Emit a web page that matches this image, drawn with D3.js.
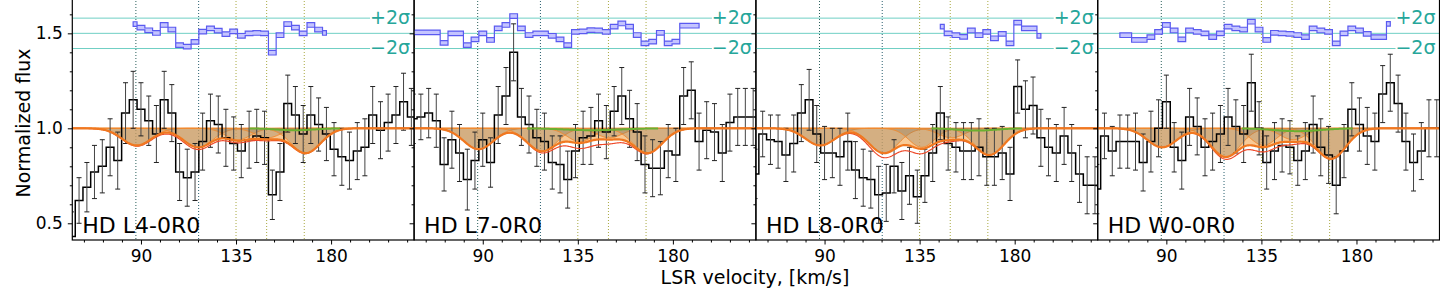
<!DOCTYPE html>
<html><head><meta charset="utf-8">
<script src="https://cdn.jsdelivr.net/npm/d3@7"></script>
<style>body{margin:0;background:#fff}svg{display:block}text{font-family:"DejaVu Sans",sans-serif}</style>
</head><body><svg id="c" width="1440" height="288"></svg>
<script>
// ---------- data ----------
const panelNames = ["HD L4-0R0", "HD L7-0R0", "HD L8-0R0", "HD W0-0R0"];
const velocity = [57.1,60.7,64.4,68.0,71.7,75.4,79.0,82.7,86.3,90.0,93.7,97.3,101.0,104.6,108.3,111.9,115.6,119.2,122.9,126.6,130.2,133.9,137.5,141.2,144.8,148.5,152.2,155.8,159.5,163.1,166.8,170.4,174.1,177.8,181.4,185.1,188.7,192.4,196.0,199.7,203.4,207.0,210.7,214.3,218.0];
const flux1 = [0.43,0.62,0.69,0.77,0.80,0.90,0.83,1.08,1.15,1.10,1.04,0.97,1.15,1.08,0.77,0.74,0.77,0.93,1.04,1.02,0.95,0.92,0.88,0.94,0.96,0.95,0.65,0.77,1.13,1.07,0.97,1.07,1.02,0.97,0.89,0.85,0.83,0.88,0.90,1.07,0.99,1.03,1.07,1.14,1.06];
const flux2 = [1.05,1.06,1.08,1.04,0.81,0.94,0.87,0.73,0.83,0.94,0.82,1.07,1.17,1.40,1.06,1.02,0.95,0.93,0.82,0.81,0.73,0.88,0.95,0.96,1.04,0.98,1.09,1.17,1.05,0.98,0.81,0.79,0.79,0.88,0.86,1.17,1.20,0.93,0.99,0.98,0.87,1.03,1.06,1.06,1.06];
const flux3 = [0.76,0.97,0.94,0.93,0.86,0.92,1.08,1.15,0.97,0.87,0.87,0.85,0.93,0.78,0.74,0.73,0.65,0.66,0.80,0.67,0.75,0.64,0.75,0.87,1.08,0.92,0.90,0.88,0.88,0.90,0.85,0.85,0.87,0.76,1.22,1.10,1.12,0.95,0.90,0.87,0.96,0.87,0.76,0.70,0.70];
const flux4 = [0.68,0.96,0.88,0.93,0.93,0.93,0.82,0.93,1.00,1.14,0.90,0.83,1.06,1.01,0.90,0.93,0.97,1.06,1.01,0.97,1.24,1.00,0.82,0.88,0.91,0.90,0.83,0.88,1.02,0.90,0.86,0.70,0.88,1.10,1.02,0.96,0.93,1.18,1.24,1.13,0.93,0.82,0.88,1.00,1.00];
const err1 = [0.13,0.12,0.13,0.14,0.14,0.15,0.15,0.16,0.15,0.14,0.13,0.15,0.15,0.15,0.15,0.15,0.15,0.15,0.14,0.15,0.15,0.14,0.14,0.15,0.14,0.14,0.13,0.15,0.15,0.15,0.15,0.15,0.14,0.14,0.14,0.15,0.15,0.15,0.15,0.15,0.15,0.15,0.15,0.15,0.15];
const err2 = err1.slice(), err3 = err1.slice(), err4 = err1.slice();
const resid1 = [1.549,1.53,1.516,1.502,1.544,1.52,1.438,1.43,1.455,1.509,1.526,1.514,1.496,1.51,1.487,1.5,1.502,1.5,1.398,1.49,1.549,1.53,1.5,1.544,1.52,1.502];
const resid2 = [1.505,1.505,1.505,1.505,1.45,1.5,1.5,1.438,1.468,1.5,1.465,1.526,1.544,1.591,1.526,1.491,1.5,1.5,1.487,1.468,1.438,1.508,1.51,1.517,1.515,1.508,1.535,1.552,1.535,1.491,1.447,1.456,1.503,1.447,1.456,1.54,1.54,1.54];
const resid3 = [1.535,1.5,1.49,1.481,1.515,1.49,1.508,1.474,1.497,1.447,1.556,1.526,1.526,1.487];
const resid4 = [1.49,1.49,1.465,1.465,1.48,1.508,1.544,1.515,1.468,1.515,1.508,1.5,1.48,1.5,1.535,1.526,1.52,1.561,1.52,1.465,1.503,1.5,1.497,1.491,1.48,1.526,1.515,1.508,1.447,1.5,1.526,1.515,1.497,1.48,1.48,1.55];
const residStart = [8, 0, 24, 3];   // index into velocity of first residual bin
// Gaussian absorption components: [centre km/s, depth, sigma km/s]
const comps1 = [[88,0.09,7],[117,0.10,7],[136,0.06,6],[150,0.05,6],[168,0.13,7]];
const comps2 = [[88,0.11,7],[118,0.12,7],[136,0.07,6],[150,0.05,6],[168,0.13,7]];
const comps3 = [[88,0.09,7],[118,0.13,7],[136,0.10,6],[150,0.05,6],[168,0.14,7]];
const comps4 = [[88,0.10,7],[118,0.15,7],[136,0.09,6],[150,0.06,6],[168,0.16,7]];
const redDip = [[125,0.012,25],[140,0.03,14],[128,0.03,14],[135,0.025,14]];
const greenComp = [[163,0.010,9],[142,0.010,13],[162,0.012,9],[152,0.015,11]];
const markerV = [87.6, 117.3, 135.0, 149.5, 167.3];
const markerColor = ["#2a5f5a", "#2a5f6f", "#a8a840", "#a8a840", "#a8a840"];
const xTicks = [90, 135, 180];
const yTicks = [0.5, 1.0, 1.5];
const sigmaLabels = ["+2σ", "−2σ"];
const sigmaLevels = [1.58, 1.5, 1.42];

// ---------- layout ----------
const svg = d3.select("#c");
const panelLeft = [72.3, 414.1, 755.9, 1097.7], panelW = 341.8, plotTop = -2, plotBottom = 240;
const x = d3.scaleLinear().domain([57.5, 219.3]).range([0, panelW]);
const y = d3.scaleLinear().domain([0.412, 1.686]).range([plotBottom, plotTop]);
const fluxes = [flux1, flux2, flux3, flux4], errs = [err1, err2, err3, err4];
const resids = [resid1, resid2, resid3, resid4], compsAll = [comps1, comps2, comps3, comps4];
const fine = d3.range(57, 220, 0.4);

svg.append("defs").append("clipPath").attr("id", "clip")
  .append("rect").attr("x", 0).attr("y", plotTop).attr("width", panelW).attr("height", plotBottom - plotTop);

const stepLine = d3.line().x(d => x(d[0])).y(d => y(d[1])).curve(d3.curveStep);
const gc = (c, v) => c[1] * Math.exp(-0.5 * ((v - c[0]) / c[2]) ** 2);

panelNames.forEach((name, p) => {
  const g = svg.append("g").attr("transform", `translate(${panelLeft[p]},0)`);
  const pc = g.append("g").attr("clip-path", "url(#clip)");
  sigmaLevels.forEach((lv, i) => pc.append("line").attr("x1", 0).attr("x2", panelW)
    .attr("y1", y(lv)).attr("y2", y(lv)).attr("stroke", "#6fcfc4").attr("stroke-width", 1));
  markerV.forEach((v, i) => pc.append("line").attr("x1", x(v)).attr("x2", x(v)).attr("y1", plotTop).attr("y2", plotBottom)
    .attr("stroke", markerColor[i]).attr("stroke-width", 1).attr("stroke-dasharray", "1,2"));
  const comps = compsAll[p];
  const total = fine.map(v => [v, 1 - d3.sum(comps, c => gc(c, v))]);
  const red = total.map(d => [d[0], d[1] - gc(redDip[p], d[0])]);
  const area = d3.area().x(d => x(d[0])).y0(y(1)).y1(d => y(d[1]));
  const line = d3.line().x(d => x(d[0])).y(d => y(d[1]));
  pc.append("path").attr("d", area(total)).attr("fill", "#f5b46a").attr("opacity", 0.7);
  comps.forEach(c => {
    const cv = fine.map(v => [v, 1 - gc(c, v)]);
    pc.append("path").attr("d", area(cv)).attr("fill", "#8c7a5a").attr("opacity", 0.33);
    pc.append("path").attr("d", line(cv)).attr("fill", "none").attr("stroke", "#f08a30").attr("stroke-width", 1);
  });
  const pts = velocity.map((v, i) => [v, fluxes[p][i]]);
  const ext = [[pts[0][0] - 1.83, pts[0][1]], ...pts, [pts[pts.length - 1][0] + 1.83, pts[pts.length - 1][1]]];
  pc.append("path").attr("d", stepLine(ext)).attr("fill", "none").attr("stroke", "#000").attr("stroke-width", 1.5);
  velocity.forEach((v, i) => {
    const f = fluxes[p][i], e = errs[p][i];
    pc.append("line").attr("x1", x(v)).attr("x2", x(v)).attr("y1", y(f - e)).attr("y2", y(f + e)).attr("stroke", "#444").attr("stroke-width", 1);
    [f - e, f + e].forEach(yy => pc.append("line").attr("x1", x(v) - 2.5).attr("x2", x(v) + 2.5).attr("y1", y(yy)).attr("y2", y(yy)).attr("stroke", "#222").attr("stroke-width", 1));
  });
  pc.append("path").attr("d", line(red)).attr("fill", "none").attr("stroke", "#ee4a2a").attr("stroke-width", 1.2);
  pc.append("path").attr("d", line(total)).attr("fill", "none").attr("stroke", "#f07820").attr("stroke-width", 2.2);
  const gcmp = greenComp[p];
  pc.append("path").attr("d", line(fine.filter(v => Math.abs(v - gcmp[0]) < 2.4 * gcmp[2]).map(v => [v, 1 - gc(gcmp, v)])))
    .attr("fill", "none").attr("stroke", "#6ab030").attr("stroke-width", 2);
  const rs = resids[p].map((r, i) => [velocity[residStart[p] + i], r]);
  const rArea = d3.area().x(d => x(d[0])).y0(d => y(d[1] - 0.012)).y1(d => y(d[1] + 0.012)).curve(d3.curveStep);
  pc.append("path").attr("d", rArea(rs)).attr("fill", "#c4c4ff").attr("stroke", "#5a5af0").attr("stroke-width", 1.2);
  [sigmaLevels[0], sigmaLevels[2]].forEach((lv, i) => {
    pc.append("rect").attr("x", panelW - 44).attr("y", y(lv) - 11).attr("width", 44).attr("height", 20).attr("fill", "#fff");
    pc.append("text").attr("x", panelW - 4).attr("y", y(lv) + (i === 0 ? 6 : 5)).attr("text-anchor", "end")
      .attr("font-size", 19).attr("fill", "#26a69a").text(sigmaLabels[i]);
  });
  g.append("text").attr("x", 10).attr("y", 233).attr("font-size", 22).text(name);
  const xa = g.append("g").attr("transform", `translate(0,${plotBottom})`).call(d3.axisBottom(x).tickValues(xTicks).tickSize(4.5).tickPadding(5));
  g.append("g").attr("transform", `translate(0,${plotBottom})`).call(d3.axisBottom(x).tickValues(d3.range(63, 219, 9).filter(t => !xTicks.includes(t))).tickSize(2.5).tickFormat(""));
  xa.selectAll("text").attr("font-size", 17).attr("font-family", "DejaVu Sans").attr("fill", "#000");
  const ya = g.append("g").call(d3.axisLeft(y).tickValues(yTicks).tickSize(4.5).tickPadding(5).tickFormat(d3.format(".1f")));
  g.append("g").call(d3.axisLeft(y).tickValues(d3.range(5, 17).map(k => k / 10).filter(t => !yTicks.includes(t))).tickSize(2.5).tickFormat(""));
  if (p === 0) ya.selectAll("text").attr("font-size", 17).attr("font-family", "DejaVu Sans").attr("fill", "#000");
  else ya.selectAll("text").remove();
  g.selectAll(".domain").remove();
  g.append("rect").attr("x", 0).attr("y", plotTop).attr("width", panelW).attr("height", plotBottom - plotTop).attr("fill", "none").attr("stroke", "#000").attr("stroke-width", 1.2);
});
svg.append("text").attr("transform", "translate(30,123) rotate(-90)").attr("text-anchor", "middle").attr("font-size", 19).text("Normalized flux");
svg.append("text").attr("x", 755).attr("y", 283.5).attr("text-anchor", "middle").attr("font-size", 19).text("LSR velocity, [km/s]");
</script></body></html>
